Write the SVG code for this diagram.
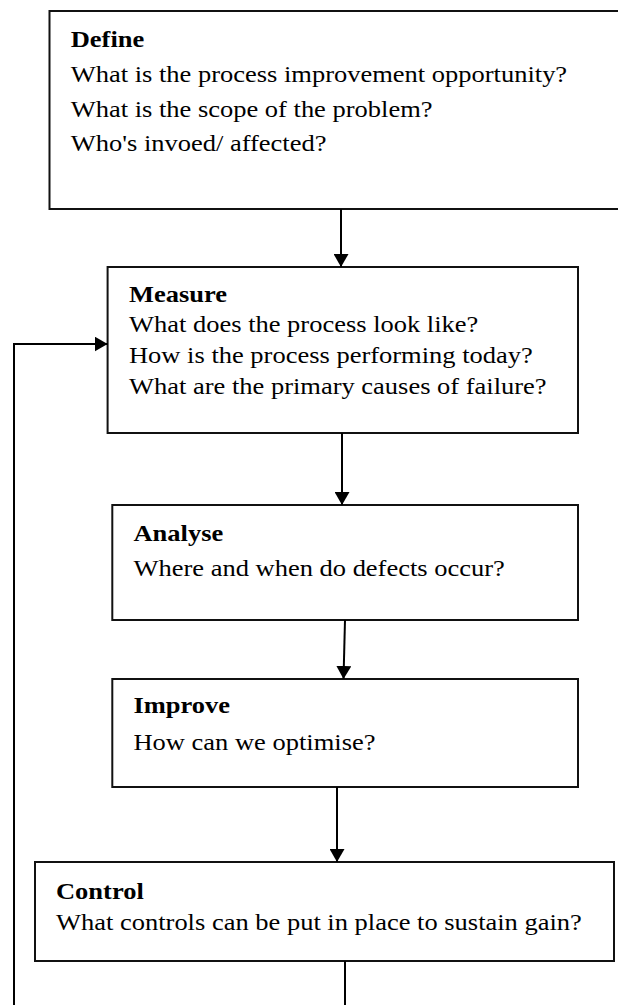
<svg xmlns="http://www.w3.org/2000/svg" width="618" height="1005" viewBox="0 0 618 1005">
<defs>
<style>
.box{fill:#fff;stroke:#111;stroke-width:2}
text{font-family:'Liberation Serif','Times New Roman',Times,serif;font-size:23px;fill:#000}
.b{font-weight:bold}
.c{fill:none;stroke:#000;stroke-width:2}
</style>
<marker id="ah" viewBox="0 0 13 15" refX="13" refY="7.5" markerWidth="13" markerHeight="15" markerUnits="userSpaceOnUse" orient="auto">
<path d="M0,0 L13,7.5 L0,15 Z" fill="#000"/>
</marker>
</defs>
<rect width="618" height="1005" fill="#fff"/>
<g id="define">
<rect class="box" x="49.5" y="11" width="580" height="198"/>
<text class="b" transform="translate(70.7,47) scale(1.152,1)">Define</text>
<text transform="translate(70.7,82) scale(1.152,1)">What is the process improvement opportunity?</text>
<text transform="translate(70.7,117) scale(1.152,1)">What is the scope of the problem?</text>
<text transform="translate(70.7,151) scale(1.152,1)">Who's invoed/ affected?</text>
</g>
<g id="measure">
<rect class="box" x="107.6" y="267" width="470.4" height="166"/>
<text class="b" transform="translate(129,302) scale(1.152,1)">Measure</text>
<text transform="translate(129,332) scale(1.152,1)">What does the process look like?</text>
<text transform="translate(129,363) scale(1.152,1)">How is the process performing today?</text>
<text transform="translate(129,394) scale(1.152,1)">What are the primary causes of failure?</text>
</g>
<g id="analyse">
<rect class="box" x="112.3" y="505" width="465.7" height="115"/>
<text class="b" transform="translate(133.5,540.5) scale(1.152,1)">Analyse</text>
<text transform="translate(133.5,576) scale(1.152,1)">Where and when do defects occur?</text>
</g>
<g id="improve">
<rect class="box" x="112.3" y="679" width="465.7" height="108"/>
<text class="b" transform="translate(133.5,713) scale(1.152,1)">Improve</text>
<text transform="translate(133.5,750) scale(1.152,1)">How can we optimise?</text>
</g>
<g id="control">
<rect class="box" x="35" y="862" width="579" height="99"/>
<text class="b" transform="translate(56,899) scale(1.152,1)">Control</text>
<text transform="translate(56,930) scale(1.152,1)">What controls can be put in place to sustain gain?</text>
</g>
<g id="connectors">
<line class="c" x1="341" y1="209" x2="341" y2="267" marker-end="url(#ah)"/>
<line class="c" x1="342" y1="433" x2="342" y2="505" marker-end="url(#ah)"/>
<line class="c" x1="345" y1="620" x2="343.5" y2="679" marker-end="url(#ah)"/>
<line class="c" x1="337" y1="787" x2="337" y2="862" marker-end="url(#ah)"/>
<line class="c" x1="345" y1="961" x2="345" y2="1005"/>
<polyline class="c" points="14,1005 14,344 107.6,344" marker-end="url(#ah)"/>
</g>
</svg>
